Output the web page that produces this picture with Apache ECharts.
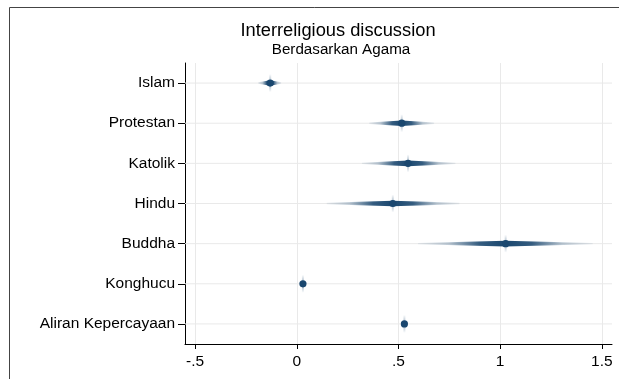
<!DOCTYPE html>
<html>
<head>
<meta charset="utf-8">
<script src="https://cdn.jsdelivr.net/npm/echarts@6/dist/echarts.min.js"></script>
<style>
  html, body { margin: 0; padding: 0; background: #ffffff; }
  #chart { width: 619px; height: 379px; }
</style>
</head>
<body>
<div id="chart"></div>
<script>
// Coefficient estimates with confidence bounds, one row per religion
const categories = ['Islam', 'Protestan', 'Katolik', 'Hindu', 'Buddha', 'Konghucu', 'Aliran Kepercayaan'];
const estimates  = [-0.131, 0.516, 0.547, 0.472, 1.027, 0.030, 0.529];
const lowerCI    = [-0.190, 0.356, 0.320, 0.147, 0.596, 0.024, 0.523];
const upperCI    = [-0.077, 0.675, 0.780, 0.800, 1.455, 0.036, 0.535];
const xTicks      = [-0.5, 0, 0.5, 1, 1.5];
const xTickLabels = ['-.5', '0', '.5', '1', '1.5'];

const NAVY = '26,71,111';
const FONT = '"Liberation Sans", Arial, Helvetica, sans-serif';

const rows = categories.map((c, i) => [estimates[i], c, lowerCI[i], upperCI[i]]);

function rgba(a) { return 'rgba(' + NAVY + ',' + a + ')'; }

function renderItem(params, api) {
  const cat = api.value(1);
  const est = api.value(0), lo = api.value(2), hi = api.value(3);
  const c = api.coord([est, cat]);
  const l = api.coord([lo, cat]);
  const h = api.coord([hi, cat]);
  const cs = params.coordSys;
  const y = c[1];
  const children = [];

  // row guide line through the category centre
  children.push({
    type: 'line', silent: true,
    shape: { x1: cs.x, y1: y, x2: cs.x + cs.width, y2: y },
    style: { stroke: '#e9e9e9', lineWidth: 1 }
  });

  const span = h[0] - l[0];
  if (span > 2) {
    const t = (c[0] - l[0]) / span;
    // tapered confidence band, fading towards the bounds
    children.push({
      type: 'polygon', silent: true,
      shape: {
        points: [
          [l[0], y - 0.7], [c[0], y - 2.8], [h[0], y - 0.7],
          [h[0], y + 0.7], [c[0], y + 2.8], [l[0], y + 0.7]
        ]
      },
      style: {
        fill: new echarts.graphic.LinearGradient(0, 0, 1, 0, [
          { offset: 0, color: rgba(0.08) },
          { offset: t * 0.35, color: rgba(0.28) },
          { offset: t * 0.7, color: rgba(0.88) },
          { offset: t, color: rgba(1) },
          { offset: t + (1 - t) * 0.3, color: rgba(0.88) },
          { offset: t + (1 - t) * 0.65, color: rgba(0.28) },
          { offset: 1, color: rgba(0.08) }
        ])
      }
    });
  }

  // soft vertical glow at the estimate
  children.push({
    type: 'rect', silent: true,
    shape: { x: c[0] - 1, y: y - 9, width: 2, height: 18 },
    style: {
      fill: new echarts.graphic.LinearGradient(0, 0, 0, 1, [
        { offset: 0, color: rgba(0) },
        { offset: 0.5, color: rgba(0.45) },
        { offset: 1, color: rgba(0) }
      ])
    }
  });

  // point estimate
  children.push({
    type: 'circle', silent: true,
    shape: { cx: c[0], cy: y, r: 3.6 },
    style: { fill: rgba(1) }
  });

  return { type: 'group', children: children };
}

const chart = echarts.init(document.getElementById('chart'), null, { renderer: 'canvas' });

chart.setOption({
  backgroundColor: '#ffffff',
  animation: false,
  textStyle: { fontFamily: FONT },
  grid: { left: 185, right: 7, top: 63, bottom: 35, containLabel: false },
  xAxis: {
    type: 'value',
    min: -0.55,
    max: 1.55,
    axisLine: { show: true, onZero: false, lineStyle: { color: '#000', width: 1 } },
    axisTick: { show: true, length: 5, customValues: xTicks, lineStyle: { color: '#000' } },
    axisLabel: {
      customValues: xTicks,
      margin: 10,
      fontSize: 15.5,
      color: '#000',
      fontFamily: FONT,
      formatter: v => xTickLabels[xTicks.indexOf(Math.round(v * 100) / 100)] || ''
    },
    splitLine: { show: true, lineStyle: { color: '#e9e9e9', width: 1 } }
  },
  yAxis: {
    type: 'category',
    data: categories,
    inverse: true,
    axisLine: { show: true, onZero: false, lineStyle: { color: '#000', width: 1 } },
    axisTick: { show: true, length: 7, alignWithLabel: true, lineStyle: { color: '#000' } },
    axisLabel: { margin: 10, fontSize: 15.5, color: '#000', fontFamily: FONT },
    splitLine: { show: false }
  },
  graphic: [
    {
      type: 'rect', silent: true, z: 100,
      shape: { x: 9.5, y: 7.5, width: 800, height: 600 },
      style: { fill: 'none', stroke: '#444', lineWidth: 1 }
    },
    {
      type: 'text', silent: true,
      x: 338, y: 31,
      style: { text: 'Interreligious discussion', fontSize: 18.3, fontFamily: FONT, fill: '#000', align: 'center', verticalAlign: 'middle' }
    },
    {
      type: 'text', silent: true,
      x: 341, y: 50,
      style: { text: 'Berdasarkan Agama', fontSize: 15.2, fontFamily: FONT, fill: '#000', align: 'center', verticalAlign: 'middle' }
    }
  ],
  series: [{
    type: 'custom',
    coordinateSystem: 'cartesian2d',
    renderItem: renderItem,
    encode: { x: 0, y: 1 },
    clip: false,
    data: rows
  }]
});
</script>
</body>
</html>
